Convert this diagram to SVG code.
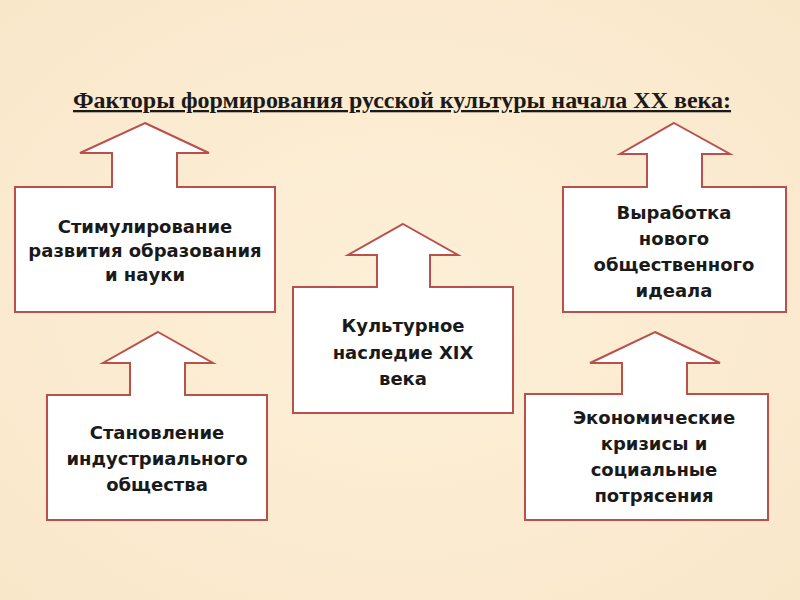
<svg xmlns="http://www.w3.org/2000/svg" width="800" height="600" viewBox="0 0 800 600">
<defs>
<radialGradient id="bg" cx="50%" cy="50%" r="70%">
<stop offset="0" stop-color="#fdf0d8"/>
<stop offset="1" stop-color="#f9e7ca"/>
</radialGradient>
<style>
.box{fill:#ffffff;stroke:#b9504c;stroke-width:2;stroke-linejoin:miter}
.lbl{font-family:"DejaVu Sans","Liberation Sans",sans-serif;font-weight:bold;font-size:18px;fill:#1a1a1a;text-anchor:middle}
.title{font-family:"Liberation Serif",serif;font-weight:bold;font-size:23px;fill:#1a1a1a;text-anchor:middle;text-decoration:underline}
</style>
</defs>
<rect width="800" height="600" fill="url(#bg)"/>
<text class="title" x="402" y="108" textLength="658" lengthAdjust="spacingAndGlyphs">Факторы формирования русской культуры начала XX века:</text>
<g id="node-stimul">
<path class="box" d="M145,123 L209,153 L177,153 L177,187 L275,187 L275,312 L15,312 L15,187 L112,187 L112,153 L80,153 Z"/>
<text class="lbl" x="145" y="233">Стимулирование</text>
<text class="lbl" x="145" y="257">развития образования</text>
<text class="lbl" x="145" y="281">и науки</text>
</g>
<g id="node-nasledie">
<path class="box" d="M403,224 L458,255 L430,255 L430,287 L513,287 L513,413 L293,413 L293,287 L377,287 L377,255 L348,255 Z"/>
<text class="lbl" x="403" y="332">Культурное</text>
<text class="lbl" x="403" y="359">наследие XIX</text>
<text class="lbl" x="403" y="385">века</text>
</g>
<g id="node-ideal">
<path class="box" d="M674,123 L730,154 L702,154 L702,187 L786,187 L786,312 L563,312 L563,187 L647,187 L647,154 L620,154 Z"/>
<text class="lbl" x="674" y="219">Выработка</text>
<text class="lbl" x="674" y="245">нового</text>
<text class="lbl" x="674" y="271">общественного</text>
<text class="lbl" x="674" y="297">идеала</text>
</g>
<g id="node-industr">
<path class="box" d="M158,332 L213,363 L185,363 L185,395 L267,395 L267,520 L47,520 L47,395 L130,395 L130,363 L103,363 Z"/>
<text class="lbl" x="157" y="439">Становление</text>
<text class="lbl" x="157" y="465">индустриального</text>
<text class="lbl" x="157" y="491">общества</text>
</g>
<g id="node-krizis">
<path class="box" d="M655,332 L720,363 L687,363 L687,394 L768,394 L768,520 L525,520 L525,394 L622,394 L622,363 L590,363 Z"/>
<text class="lbl" x="654" y="424">Экономические</text>
<text class="lbl" x="654" y="450">кризисы и</text>
<text class="lbl" x="654" y="476">социальные</text>
<text class="lbl" x="654" y="502">потрясения</text>
</g>
<g id="connectors"></g>
</svg>
